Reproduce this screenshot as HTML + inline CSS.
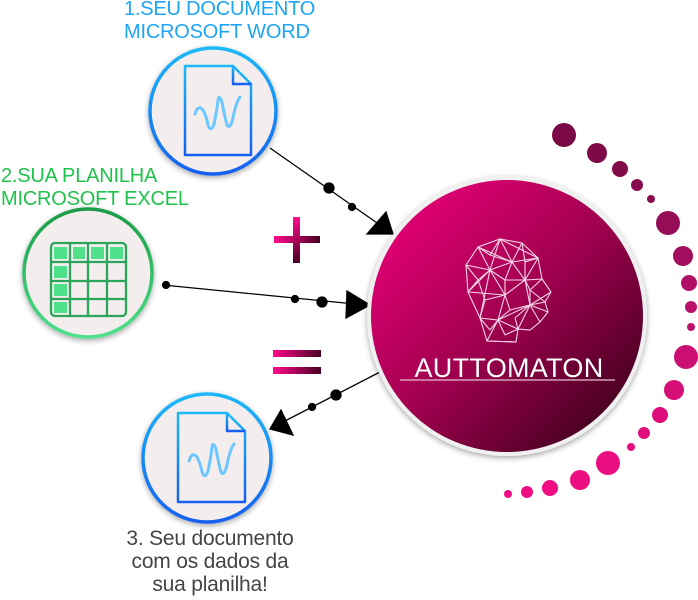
<!DOCTYPE html>
<html><head><meta charset="utf-8"><style>
body{margin:0;width:698px;height:600px;background:#fff;overflow:hidden;position:relative;font-family:"Liberation Sans",sans-serif}
.t{position:absolute;white-space:nowrap;letter-spacing:-0.2px}
</style></head><body>
<div class="t" style="left:124px;top:-2px;font-size:20px;line-height:23px;color:#1ea4f4">1.SEU DOCUMENTO<br>MICROSOFT WORD</div>
<div class="t" style="left:1px;top:165px;font-size:20px;line-height:23px;color:#1fc24a">2.SUA PLANILHA<br>MICROSOFT EXCEL</div>
<div class="t" style="left:105px;top:527px;width:210px;text-align:center;font-size:21px;line-height:23px;color:#444">3. Seu documento<br>com os dados da<br>sua planilha!</div>
<svg width="698" height="600" style="position:absolute;left:0;top:0">
<defs>
<linearGradient id="bg" x1="0" y1="0" x2="1" y2="1"><stop offset="0" stop-color="#f5007f"/><stop offset="0.5" stop-color="#a0004f"/><stop offset="1" stop-color="#2a0012"/></linearGradient>
<linearGradient id="blue" x1="0" y1="0" x2="0" y2="1"><stop offset="0" stop-color="#1cb8f8"/><stop offset="1" stop-color="#1560f0"/></linearGradient>
<linearGradient id="green" x1="0" y1="0" x2="0" y2="1"><stop offset="0" stop-color="#1a9b48"/><stop offset="1" stop-color="#4fe08a"/></linearGradient>
<linearGradient id="pm" x1="0" y1="0" x2="1" y2="0"><stop offset="0" stop-color="#ff0a8a"/><stop offset="1" stop-color="#4a0024"/></linearGradient>
<linearGradient id="pmv" x1="0" y1="0" x2="0" y2="1"><stop offset="0" stop-color="#ff0a8a"/><stop offset="1" stop-color="#4a0024"/></linearGradient>
<filter id="sh" x="-20%" y="-20%" width="140%" height="140%"><feDropShadow dx="0" dy="2" stdDeviation="3" flood-opacity="0.35"/></filter>
</defs>
<g stroke="#000" stroke-width="1.3" fill="#000">
<line x1="270" y1="148" x2="380" y2="225"/>
<circle cx="329" cy="188" r="5"/><circle cx="352" cy="207" r="3.5"/>
<polygon points="367,234 386,212 393,234"/>
<line x1="163" y1="285" x2="355" y2="304"/>
<circle cx="166" cy="285" r="3.5"/><circle cx="295" cy="299" r="3.5"/><circle cx="322" cy="302" r="5"/>
<polygon points="347,291 370,305 346,318"/>
<line x1="380" y1="372" x2="283" y2="422"/>
<circle cx="336" cy="395" r="5"/><circle cx="312" cy="407" r="3.5"/>
<polygon points="270,429 281,410 293,435"/>
</g>
<rect x="274" y="236" width="46" height="7" fill="url(#pm)"/>
<rect x="293" y="217" width="7" height="46" fill="url(#pmv)"/>
<rect x="273" y="350" width="48" height="7" fill="url(#pm)"/>
<rect x="273" y="367" width="48" height="7" fill="url(#pm)"/>
<g filter="url(#sh)"><circle cx="213" cy="111" r="63" fill="#f3eeed" stroke="url(#blue)" stroke-width="3.5"/></g>
<g fill="none" stroke="url(#blue)" stroke-width="2.5" stroke-linejoin="round">
<path d="M185 66 H233 L251 84 V155 H185 Z"/><path d="M233 66 V84 H251"/><line x1="185" y1="147" x2="251" y2="147"/>
</g>
<path d="M195 114 Q198 104 203 110 Q207 118 208 125 Q211 133 214 124 Q217 110 218 100 Q219 94 222 102 Q225 118 227 125 Q230 130 233 118 Q236 102 240 97" fill="none" stroke="#6cc6ff" stroke-width="3" stroke-linecap="round"/>
<g filter="url(#sh)"><circle cx="88" cy="273" r="64" fill="#f3eeed" stroke="url(#green)" stroke-width="3.5"/></g>
<g fill="none" stroke="#2aa55a" stroke-width="2.3">
<rect x="51" y="243" width="75" height="73" rx="4"/>
<line x1="51" y1="262" x2="126" y2="262"/><line x1="51" y1="281" x2="126" y2="281"/><line x1="51" y1="299" x2="126" y2="299"/>
<line x1="70" y1="243" x2="70" y2="316"/><line x1="88" y1="243" x2="88" y2="316"/><line x1="107" y1="243" x2="107" y2="316"/>
</g>
<g fill="#4fe08a"><rect x="54" y="247" width="13" height="12"/><rect x="73" y="247" width="12" height="12"/><rect x="91" y="247" width="13" height="12"/><rect x="110" y="247" width="13" height="12"/><rect x="54" y="266" width="13" height="12"/><rect x="54" y="284" width="13" height="12"/><rect x="54" y="302" width="13" height="11"/></g>
<g filter="url(#sh)"><circle cx="207" cy="458" r="64" fill="#f3eeed" stroke="url(#blue)" stroke-width="3.5"/></g>
<g fill="none" stroke="url(#blue)" stroke-width="2.5" stroke-linejoin="round">
<path d="M178 413 H227 L245 431 V502 H178 Z"/><path d="M227 413 V431 H245"/><line x1="178" y1="494" x2="245" y2="494"/>
</g>
<path d="M189 461 Q192 451 197 457 Q201 465 202 472 Q205 480 208 471 Q211 457 212 447 Q213 441 216 449 Q219 465 221 472 Q224 477 227 465 Q230 449 234 444" fill="none" stroke="#6cc6ff" stroke-width="3" stroke-linecap="round"/>
<g filter="url(#sh)"><circle cx="507" cy="316" r="140" fill="#f0f0f0"/></g>
<circle cx="507" cy="316" r="136" fill="url(#bg)"/>
<g fill="none" stroke="#f4d6e6" stroke-width="1.1">
<path d="M487 341 L480 318 L468 292 L466 265 L478 247 L500 239 L522 243 L538 258 L542 279 L551 292 L545 302 L548 312 L540 322 L530 330 L518 329 L516 342 Z"/>
<path d="M468 292 L490 270 L478 247 M490 270 L500 239 L512 262 L522 243 M512 262 L538 258 L525 280 L542 279 M490 270 L512 262 L525 280 L505 295 L490 270 L480 318 M505 295 L525 280 L530 305 L545 302 M505 295 L498 320 L480 318 M498 320 L530 305 L518 329 L498 320 L487 341 L516 342 M466 265 L490 270 M530 305 L551 292 M478 247 L512 262 M468 292 L505 295 M500 239 L538 258"/>
<path d="M466 265 L478 280 L490 270 M478 280 L468 292 M478 280 L485 300 L505 295 M485 300 L480 318 M500 239 L490 255 L478 247 M490 255 L512 262 M522 243 L525 262 L538 258 M525 262 L525 280 M512 262 L505 280 L525 280 M505 280 L490 270 M505 280 L505 295 M530 290 L542 279 M530 290 L525 280 M530 290 L530 305 M530 290 L545 302 M498 320 L510 310 L530 305 M510 310 L505 295 M490 330 L498 320 M490 330 L480 318 M505 335 L498 320 M505 335 L518 329 M540 322 L530 305 M548 312 L530 305 M515 318 L518 329 M515 318 L530 305"/>
</g>
<text x="509" y="377" text-anchor="middle" font-family="Liberation Sans,sans-serif" font-size="27" fill="#fff" letter-spacing="0.3">AUTTOMATON</text>
<line x1="400" y1="380" x2="615" y2="380" stroke="#e8c0d4" stroke-width="1.2"/>
<g>
<circle cx="564" cy="135" r="12" fill="#7a0a45"/><circle cx="597" cy="153" r="10" fill="#7d0a47"/><circle cx="620" cy="169" r="8" fill="#820b4a"/><circle cx="637" cy="185" r="6" fill="#870b4d"/><circle cx="651" cy="199" r="4" fill="#8c0b50"/>
<circle cx="668" cy="223" r="12" fill="#960d57"/><circle cx="683" cy="256" r="10" fill="#a30e5e"/><circle cx="689" cy="283" r="8" fill="#ae0f64"/><circle cx="691" cy="307" r="6" fill="#b8106a"/><circle cx="691" cy="327" r="4" fill="#c0106e"/>
<circle cx="686" cy="357" r="12" fill="#cc0f74"/><circle cx="674" cy="390" r="10" fill="#d60f78"/><circle cx="660" cy="415" r="8" fill="#dd0e7b"/><circle cx="644" cy="433" r="6" fill="#e20e7d"/><circle cx="631" cy="447" r="4" fill="#e60e7e"/>
<circle cx="608" cy="463" r="12" fill="#ea0d80"/><circle cx="580" cy="480" r="10" fill="#ec0d81"/><circle cx="550" cy="488" r="8" fill="#ee0d82"/><circle cx="527" cy="492" r="6" fill="#f00d83"/><circle cx="508" cy="494" r="4" fill="#f20d84"/>
</g>
</svg>
</body></html>
